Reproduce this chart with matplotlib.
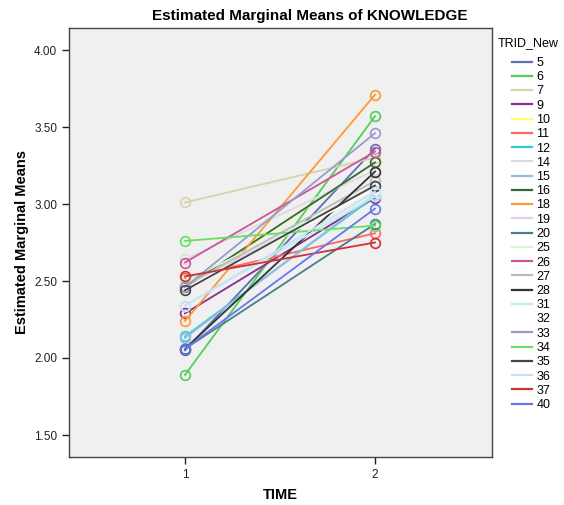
import matplotlib
matplotlib.use("Agg")
import matplotlib.pyplot as plt

plt.rcParams['font.family'] = ['Liberation Sans', 'DejaVu Sans']

time_points = [1, 2]
time_labels = ["1", "2"]
ids = ["5", "6", "7", "9", "10", "11", "12", "14", "15", "16", "18", "19",
       "20", "25", "26", "27", "28", "31", "32", "33", "34", "35", "36", "37", "40"]
time1 = [2.05, 1.89, 3.01, 2.29, 2.45, 2.52, 2.14, 2.64, 2.13, 2.46, 2.24, 2.47,
         2.06, 2.50, 2.62, 2.47, 2.06, 2.34, 2.45, 2.46, 2.76, 2.44, 2.34, 2.53, 2.06]
time2 = [3.36, 3.57, 3.30, 3.04, 3.27, 2.81, 3.05, 3.22, 3.06, 3.27, 3.71, 3.10,
         2.87, 3.10, 3.34, 3.15, 3.21, 3.05, 3.10, 3.46, 2.86, 3.12, 3.08, 2.75, 2.97]
colors = ["#5b6fb5", "#4fcf55", "#d9d3a8", "#8b2b8b", "#ffff66", "#ff6666",
          "#33cccc", "#dcdcdc", "#99bbe6", "#336644", "#ff9933", "#e6ccf0",
          "#4a7d8c", "#ccffcc", "#cc5599", "#bbbbbb", "#333333", "#bbeeee",
          "#ffffff", "#9999cc", "#66e066", "#444444", "#cce0f5", "#cc3333", "#6677ee"]
yticks = [1.50, 2.00, 2.50, 3.00, 3.50, 4.00]

fig = plt.figure(figsize=(5.64, 5.05), dpi=100)
ax = fig.add_axes([69/564, 48/505, (492-69)/564, (457-28)/505])
ax.set_facecolor("#f0f0f0")

for i, lab in enumerate(ids):
    ax.plot(time_points, [time1[i], time2[i]], color=colors[i], lw=1.3,
            marker='o', markersize=7, markerfacecolor='none',
            markeredgecolor=colors[i], markeredgewidth=1.2, label=lab)

ax.set_xlim(1 - 116/190, 2 + 117/190)
ax.set_ylim(4 - (457-50)/154, 4 + (50-28)/154)
ax.set_xticks(time_points)
ax.set_xticklabels(time_labels)
ax.set_yticks(yticks)
ax.set_yticklabels([f"{v:.2f}" for v in yticks])
ax.tick_params(direction='out', length=5, width=1, labelsize=8.5, colors='#222222')
for s in ax.spines.values():
    s.set_color('#444444')
    s.set_linewidth(1)

ax.set_title("Estimated Marginal Means of KNOWLEDGE", fontsize=11,
             fontweight='bold', pad=6, x=0.57)
ax.set_ylabel("Estimated Marginal Means", fontsize=10.5, fontweight='bold')
ax.yaxis.set_label_coords((22 - 69)/423, 0.5)
ax.set_xlabel("TIME", fontsize=10.5, fontweight='bold')
ax.xaxis.set_label_coords(0.5, (457 - 495)/429)
ax.xaxis.label.set_va('center')
ax.yaxis.label.set_va('center')

fig.text(498/564, 1 - 43/505, "TRID_New", fontsize=9, va='center', ha='left')
leg = ax.legend(loc='upper left', bbox_to_anchor=(512/564, 1 - 57/505),
                bbox_transform=fig.transFigure, frameon=False,
                fontsize=9, handlelength=1.6, handletextpad=0.35,
                labelspacing=0.18, borderaxespad=0, borderpad=0)
for h in leg.legend_handles:
    h.set_marker('')
    h.set_linewidth(1.6)

fig.savefig("out.png", dpi=100)
